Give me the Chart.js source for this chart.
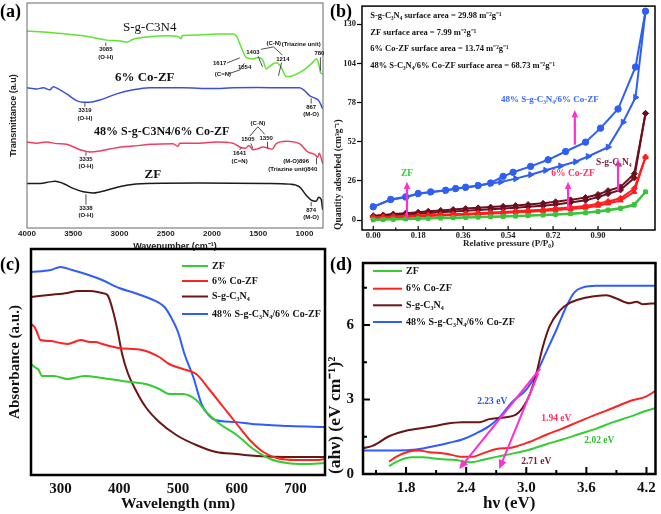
<!DOCTYPE html>
<html>
<head>
<meta charset="utf-8">
<script src="https://cdn.jsdelivr.net/npm/chart.js@4.4.1/dist/chart.umd.min.js"></script>
<style>
  body { margin: 0; background: #fff; }
  #fig { position: relative; width: 661px; height: 514px; overflow: hidden; background: #fff; }
  #fig canvas { position: absolute; }
</style>
</head>
<body>
<div id="fig">
  <canvas id="chartA" width="330" height="257" style="left:0;top:0"></canvas>
  <canvas id="chartB" width="331" height="257" style="left:330px;top:0"></canvas>
  <canvas id="chartC" width="330" height="269" style="left:0;top:245px"></canvas>
  <canvas id="chartD" width="339" height="269" style="left:322px;top:245px"></canvas>
</div>
<script>
// (a) FTIR, transmittance in arbitrary units
ftirTicks = [4000, 3500, 3000, 2500, 2000, 1500, 1000];
ftirSgWave = [4000,3752,3572,3392,3284,3140,3032,2961,2920,2853,2673,2493,2360,2335,2320,2133,1953,1774,1737,1683,1629,1558,1504,1450,1414,1380,1342,1300,1252,1198,1126,1018,910,874,846,828,803];
ftirSg = [87.6,86.9,86.2,85.4,84.6,83.5,83.2,82.9,82.6,83.9,85.0,85.4,85.0,84.1,85.6,85.8,86.2,86.2,85.4,80.2,75.8,75.1,75.8,74.6,70.7,71.7,72.9,73.5,71.4,67.3,67.7,69.9,73.6,75.1,72.9,69.2,68.5];
ftirCoWave = [4000,3896,3824,3752,3716,3662,3572,3464,3392,3320,3212,3032,2853,2673,2313,2000,1774,1500,1234,1054,1000,946,892,846,803];
ftirCo = [62.3,61.8,62.3,61.4,62.8,61.8,59.6,56.6,55.9,55.9,56.9,59.6,61.4,62.3,62.3,62.0,62.3,62.4,62.3,62.3,61.1,58.8,57.8,56.6,53.0];
ftirCompWave = [4000,3896,3788,3680,3572,3428,3320,3212,3032,2853,2673,2421,2367,2349,2133,1953,1774,1702,1641,1600,1558,1505,1450,1378,1350,1306,1198,1054,964,892,856,840,803];
ftirComp = [38.2,37.7,38.2,37.5,37.2,34.8,33.8,34.2,35.7,36.4,37.2,37.5,36.3,37.7,37.7,38.2,37.7,36.0,35.4,36.7,34.8,35.2,36.0,35.3,35.0,37.5,38.6,37.5,33.8,32.7,31.5,33.2,28.6];
ftirZfWave = [4000,3860,3752,3698,3608,3500,3392,3284,3140,2925,2709,2133,1414,1162,1054,982,928,874,846,820,803];
ftirZf = [19.8,19.8,20.5,20.8,19.8,17.6,16.1,15.6,16.8,19.0,19.8,20.0,19.8,19.5,18.3,14.6,12.4,11.9,13.7,12.8,8.0];

// (b) N2 isotherms, cm3/g
isoTicksX = [0, 0.18, 0.36, 0.54, 0.72, 0.90];
isoTicksY = [0, 26, 52, 78, 104, 130];
isoP = [0.00,0.04,0.08,0.13,0.18,0.22,0.27,0.32,0.37,0.42,0.47,0.52,0.57,0.62,0.68,0.73,0.79,0.85,0.90,0.94,0.99,1.045,1.09];
sgDes = [2.9,3.4,4.0,4.6,5.2,5.8,6.4,7.0,7.6,8.1,8.6,9.1,9.6,10.3,11.1,12.1,13.4,15.0,17.0,19.5,22.0,30.8,70.8];
sgAds = [2.2,2.7,3.2,3.7,4.2,4.7,5.2,5.7,6.2,6.7,7.2,7.7,8.2,8.8,9.5,10.4,11.6,13.2,15.2,17.5,20.0,28.0,70.8];
coDes = [1.8,2.1,2.4,2.7,3.0,3.3,3.6,3.9,4.2,4.6,5.0,5.4,5.8,6.3,6.9,7.6,8.4,9.4,10.8,12.3,14.5,20.9,41.8];
coAds = [1.2,1.5,1.8,2.1,2.4,2.7,3.0,3.3,3.6,3.9,4.3,4.7,5.1,5.5,6.0,6.6,7.3,8.2,9.5,11.0,13.0,18.7,41.8];
zfDes = [0.3,0.5,0.7,0.9,1.1,1.3,1.5,1.7,1.9,2.1,2.3,2.5,2.8,3.1,3.5,3.9,4.4,5.0,5.9,6.8,8.0,10.5,18.7];
zfAds = [0.0,0.2,0.4,0.6,0.8,1.0,1.2,1.4,1.6,1.8,2.0,2.2,2.5,2.8,3.2,3.6,4.1,4.7,5.5,6.4,7.6,9.8,18.7];
compDesP = [0.00,0.07,0.13,0.18,0.23,0.29,0.33,0.37,0.42,0.47,0.52,0.56,0.63,0.70,0.77,0.85,0.91,0.98,1.05,1.09];
compDes = [8.8,13.7,15.4,17.6,18.7,19.8,20.9,21.8,22.9,24.6,29.0,31.7,35.6,40.0,45.5,51.7,61.0,73.7,101.6,138.6];
compAdsP = [0.00,0.07,0.13,0.18,0.23,0.29,0.33,0.37,0.42,0.47,0.51,0.57,0.63,0.69,0.75,0.81,0.86,0.94,1.00,1.05,1.09];
compAds = [8.8,13.5,15.2,17.4,18.5,19.6,20.7,21.6,22.8,24.2,25.3,27.5,30.1,33.0,35.9,38.7,42.2,48.4,64.9,81.4,138.6];

// (c) UV-vis absorbance, a.u.
uvTicks = [300, 400, 500, 600, 700];
uvZfWave = [250,256,263,269,289,312,341,371,405,445,468,485,508,531,548,571,600,628,657,685,714,750];
uvZf = [1.11,1.08,1.05,0.99,0.99,0.96,0.99,0.97,0.94,0.91,0.86,0.81,0.81,0.75,0.63,0.51,0.40,0.26,0.16,0.12,0.11,0.12];
uvCoWave = [250,256,260,266,283,300,312,335,350,360,371,399,439,468,485,508,531,554,577,600,622,645,668,702,736,750];
uvCo = [1.51,1.48,1.43,1.35,1.34,1.32,1.31,1.35,1.33,1.33,1.31,1.27,1.25,1.18,1.11,1.06,1.01,0.85,0.68,0.51,0.35,0.23,0.17,0.15,0.15,0.16];
uvSgWave = [250,280,312,330,350,371,380,389,397,405,414,428,445,468,497,531,565,599,634,685,750];
uvSg = [1.78,1.80,1.82,1.84,1.84,1.82,1.80,1.65,1.45,1.21,1.03,0.85,0.68,0.53,0.40,0.30,0.23,0.21,0.19,0.18,0.18];
uvCompWave = [250,283,300,320,348,371,400,426,454,477,488,500,511,526,540,552,563,597,626,655,689,750];
uvComp = [2.03,2.05,2.08,2.05,2.0,1.95,1.87,1.82,1.76,1.68,1.58,1.43,1.21,0.98,0.71,0.60,0.55,0.53,0.51,0.50,0.49,0.48];

// (d) Tauc plot
taucTicksX = [1.8, 2.4, 3.0, 3.6, 4.2];
taucTicksY = [0, 3, 6];
taucZfE = [1.63,1.73,1.86,1.96,2.13,2.30,2.43,2.56,2.70,2.86,3.03,3.20,3.36,3.53,3.70,3.86,4.03,4.20,4.29];
taucZf = [0.32,0.54,0.67,0.67,0.60,0.56,0.47,0.56,0.69,0.82,0.98,1.20,1.39,1.61,1.83,2.08,2.30,2.55,2.65];
taucCoE = [1.63,1.70,1.83,1.93,2.03,2.20,2.36,2.46,2.56,2.70,2.86,3.03,3.20,3.36,3.53,3.70,3.86,4.03,4.20,4.29];
taucCo = [0.50,0.69,0.91,0.95,0.88,0.82,0.69,0.69,0.82,1.01,1.07,1.29,1.58,1.83,2.12,2.40,2.65,2.93,3.13,3.35];
taucSgE = [1.37,1.47,1.63,1.83,2.03,2.20,2.36,2.53,2.63,2.76,2.90,2.96,3.03,3.10,3.16,3.23,3.33,3.43,3.56,3.70,3.80,3.90,4.03,4.10,4.16,4.29];
taucSg = [1.04,1.14,1.52,1.77,1.89,2.02,2.08,2.08,2.21,2.27,2.40,2.65,3.16,4.04,5.05,5.93,6.56,6.88,7.07,7.17,7.20,7.07,6.88,6.94,6.84,6.88];
taucCompE = [1.37,1.70,1.90,2.10,2.23,2.36,2.50,2.63,2.73,2.86,3.00,3.10,3.20,3.30,3.40,3.48,3.56,3.70,3.96,4.29];
taucComp = [0.95,0.95,0.99,1.14,1.26,1.39,1.64,1.93,2.27,2.90,3.40,4.04,4.92,5.80,6.75,7.32,7.51,7.58,7.58,7.58];

SERIF = 'Liberation Serif';
SANS = 'Liberation Sans';
MAGENTA = '#ff2fd2';

function pts(xs, ys) {
    return xs.map(function (x, i) { return {x: x, y: ys[i]}; });
}

function fixTicks(list) {
    return function (s) { s.ticks = list.map(function (v) { return {value: v}; }); };
}

// frame, panel letter, inner ticks, notes, arrows and legend drawn on top
function overlay(cfg) {
    return {
        id: 'overlay',
        afterDatasetsDraw: function (chart) {
            var ctx = chart.ctx, a = chart.chartArea;
            var xs = chart.scales.x, ys = chart.scales.y;
            var px = function (v) { return xs.getPixelForValue(v); };
            var py = function (v) { return ys.getPixelForValue(v); };
            ctx.save();
            if (cfg.ticksIn) {
                var t = cfg.ticksIn;
                ctx.strokeStyle = '#000';
                ctx.lineWidth = t.width;
                ctx.beginPath();
                (t.x || []).forEach(function (v) { ctx.moveTo(px(v), a.bottom); ctx.lineTo(px(v), a.bottom - t.len); });
                (t.xMinor || []).forEach(function (v) { ctx.moveTo(px(v), a.bottom); ctx.lineTo(px(v), a.bottom - t.minor); });
                (t.y || []).forEach(function (v) { ctx.moveTo(a.left, py(v)); ctx.lineTo(a.left + t.len, py(v)); });
                (t.yMinor || []).forEach(function (v) { ctx.moveTo(a.left, py(v)); ctx.lineTo(a.left + t.minor, py(v)); });
                ctx.stroke();
            }
            if (cfg.frame) {
                ctx.strokeStyle = cfg.frame.color;
                ctx.lineWidth = cfg.frame.width;
                ctx.strokeRect(a.left, a.top, a.right - a.left, a.bottom - a.top);
            }
            (cfg.lines || []).forEach(function (l) {
                ctx.strokeStyle = l.color || '#222';
                ctx.lineWidth = l.width || 0.8;
                ctx.beginPath();
                l.pts.forEach(function (p, i) {
                    if (i === 0) ctx.moveTo(px(p[0]), py(p[1])); else ctx.lineTo(px(p[0]), py(p[1]));
                });
                ctx.stroke();
            });
            (cfg.arrows || []).forEach(function (r) {
                var x1 = px(r.from[0]), y1 = py(r.from[1]), x2 = px(r.to[0]), y2 = py(r.to[1]);
                var ang = Math.atan2(y2 - y1, x2 - x1), h = r.head || 8;
                ctx.strokeStyle = r.color;
                ctx.fillStyle = r.color;
                ctx.lineWidth = r.width || 2;
                ctx.beginPath();
                ctx.moveTo(x1, y1);
                ctx.lineTo(x2 - Math.cos(ang) * h * 0.7, y2 - Math.sin(ang) * h * 0.7);
                ctx.stroke();
                ctx.beginPath();
                ctx.moveTo(x2, y2);
                ctx.lineTo(x2 - h * Math.cos(ang - 0.42), y2 - h * Math.sin(ang - 0.42));
                ctx.lineTo(x2 - h * Math.cos(ang + 0.42), y2 - h * Math.sin(ang + 0.42));
                ctx.closePath();
                ctx.fill();
            });
            ctx.textBaseline = 'middle';
            (cfg.texts || []).forEach(function (n) {
                ctx.font = n.font;
                ctx.fillStyle = n.color || '#111';
                ctx.textAlign = n.align || 'center';
                ctx.fillText(n.text, px(n.x), py(n.y));
            });
            if (cfg.legend) {
                var g = cfg.legend;
                ctx.font = g.font;
                ctx.textAlign = 'left';
                chart.data.datasets.forEach(function (ds, i) {
                    ctx.strokeStyle = ds.borderColor;
                    ctx.lineWidth = 2;
                    ctx.beginPath();
                    ctx.moveTo(g.x0, g.rows[i]);
                    ctx.lineTo(g.x1, g.rows[i]);
                    ctx.stroke();
                    ctx.fillStyle = '#111';
                    ctx.fillText(ds.label, g.tx, g.rows[i]);
                });
            }
            if (cfg.letter) {
                ctx.font = 'bold 18px ' + SERIF;
                ctx.fillStyle = '#000';
                ctx.textAlign = 'left';
                ctx.fillText(cfg.letter.text, cfg.letter.x, cfg.letter.y);
            }
            ctx.restore();
        }
    };
}

function baseOptions() {
    return {
        responsive: false,
        animation: false,
        devicePixelRatio: 1,
        events: [],
        plugins: {legend: {display: false}, tooltip: {enabled: false}},
        elements: {point: {radius: 0}, line: {borderWidth: 2}}
    };
}

// ---------- (a) ----------
var optA = baseOptions();
optA.layout = {padding: {left: 0, right: 7, top: 3, bottom: 0}};
optA.elements.line.borderWidth = 1.5;
optA.elements.line.cubicInterpolationMode = 'monotone';
optA.scales = {
    x: {
        type: 'linear', reverse: true, min: 800, max: 4000,
        afterBuildTicks: fixTicks(ftirTicks),
        afterFit: function (s) { s.height = 29; },
        ticks: {font: {family: SANS, size: 8, weight: 'bold'}, color: '#222', padding: 1, callback: function (v) { return v; }},
        grid: {drawOnChartArea: false, drawTicks: false},
        border: {display: false},
        title: {display: true, text: 'Wavenumber (cm⁻¹)', font: {family: SANS, size: 9, weight: 'bold'}, color: '#222', padding: {top: 0, bottom: 5}}
    },
    y: {
        min: 0, max: 100,
        afterFit: function (s) { s.width = 27; },
        ticks: {display: false},
        grid: {display: false},
        border: {display: false},
        title: {display: true, text: 'Transmittance (a.u)', font: {family: SANS, size: 9, weight: 'bold'}, color: '#222', padding: {top: 8.5, bottom: 0}}
    }
};
var noteA = 'bold 6px ' + SANS;
new Chart(document.getElementById('chartA'), {
    type: 'line',
    data: {
        datasets: [
            {label: 'S-g-C3N4', data: pts(ftirSgWave, ftirSg), borderColor: '#5fe52f'},
            {label: '6% Co-ZF', data: pts(ftirCoWave, ftirCo), borderColor: '#3b4fd9'},
            {label: '48% S-g-C3N4/6% Co-ZF', data: pts(ftirCompWave, ftirComp), borderColor: '#f03e5e'},
            {label: 'ZF', data: pts(ftirZfWave, ftirZf), borderColor: '#1a1a1a'}
        ]
    },
    options: optA,
    plugins: [overlay({
        frame: {color: '#666', width: 1},
        letter: {text: '(a)', x: 0, y: 12},
        texts: [
            {x: 2673, y: 89.0, text: 'S-g-C3N4', font: '13px ' + SERIF},
            {x: 2727, y: 66.8, text: '6% Co-ZF', font: 'bold 13px ' + SERIF},
            {x: 2543, y: 42.5, text: '48% S-g-C3N4/6% Co-ZF', font: 'bold 12px ' + SERIF},
            {x: 2640, y: 23.9, text: 'ZF', font: 'bold 13px ' + SERIF},
            {x: 3148, y: 79.2, text: '3085', font: noteA}, {x: 3148, y: 75.9, text: '(O-H)', font: noteA},
            {x: 3374, y: 52.2, text: '3319', font: noteA}, {x: 3374, y: 48.9, text: '(O-H)', font: noteA},
            {x: 3363, y: 30.5, text: '3335', font: noteA}, {x: 3363, y: 27.3, text: '(O-H)', font: noteA},
            {x: 3363, y: 8.8, text: '3338', font: noteA}, {x: 3363, y: 5.6, text: '(O-H)', font: noteA},
            {x: 928, y: 53.7, text: '867', font: noteA}, {x: 928, y: 50.6, text: '(M-O)', font: noteA},
            {x: 928, y: 8.0, text: '874', font: noteA}, {x: 928, y: 4.9, text: '(M-O)', font: noteA},
            {x: 1917, y: 73.1, text: '1617', font: noteA}, {x: 1882, y: 68.5, text: '(C=N)', font: noteA},
            {x: 1648, y: 71.4, text: '1554', font: noteA}, {x: 1558, y: 78.0, text: '1403', font: noteA},
            {x: 1332, y: 81.9, text: '(C-N)', font: noteA}, {x: 1234, y: 75.1, text: '1214', font: noteA},
            {x: 1036, y: 81.6, text: '(Triazine unit)', font: noteA}, {x: 839, y: 77.6, text: '780', font: noteA},
            {x: 1504, y: 46.3, text: '(C-N)', font: noteA}, {x: 1612, y: 39.2, text: '1505', font: noteA},
            {x: 1414, y: 40.0, text: '1350', font: noteA}, {x: 1702, y: 33.1, text: '1641', font: noteA},
            {x: 1702, y: 29.6, text: '(C=N)', font: noteA}, {x: 1090, y: 29.6, text: '(M-O)896', font: noteA},
            {x: 1127, y: 26.1, text: '(Triazine unit)840', font: noteA}
        ],
        lines: [
            {pts: [[3148, 82.4], [3148, 80.9]]},
            {pts: [[3374, 55.6], [3374, 53.9]]},
            {pts: [[3363, 33.6], [3363, 32.1]]},
            {pts: [[3363, 15.0], [3363, 10.4]]},
            {pts: [[928, 57.6], [928, 55.3]]},
            {pts: [[928, 11.6], [928, 9.6]]},
            {pts: [[1840, 73.3], [1700, 75.6]]},
            {pts: [[1820, 68.6], [1700, 70.2], [1650, 73.2]]},
            {pts: [[1500, 76.3], [1454, 71.6]]},
            {pts: [[1470, 79.4], [1335, 80.5], [1240, 76.9]]},
            {pts: [[1248, 73.5], [1281, 67.7]]},
            {pts: [[828, 75.9], [828, 69.9]]},
            {pts: [[1590, 40.9], [1504, 45.0], [1430, 41.6]]},
            {pts: [[1580, 37.6], [1558, 35.4]]},
            {pts: [[1400, 38.3], [1400, 35.6]]},
            {pts: [[1702, 34.7], [1680, 35.8]]},
            {pts: [[870, 31.2], [870, 28.3]]}
        ]
    })]
});

// ---------- (b) ----------
var optB = baseOptions();
optB.layout = {padding: {left: 0, right: 6, top: 5, bottom: 0}};
optB.elements.line.tension = 0;
optB.elements.point.radius = 3;
optB.scales = {
    x: {
        type: 'linear', min: -0.045, max: 1.128,
        afterBuildTicks: fixTicks(isoTicksX),
        afterFit: function (s) { s.height = 27; },
        ticks: {font: {family: SERIF, size: 8.5, weight: 'bold'}, color: '#222', padding: 1, callback: function (v) { return v.toFixed(2); }},
        grid: {drawOnChartArea: false, drawTicks: false},
        border: {display: false},
        title: {display: true, text: 'Relative pressure (P/P₀)', font: {family: SERIF, size: 9, weight: 'bold'}, color: '#222', padding: {top: 0, bottom: 8}}
    },
    y: {
        min: -6.6, max: 142,
        afterBuildTicks: fixTicks(isoTicksY),
        afterFit: function (s) { s.width = 32; },
        ticks: {font: {family: SERIF, size: 8.5, weight: 'bold'}, color: '#222', padding: 1},
        grid: {drawOnChartArea: false, tickLength: 5, color: '#000', tickWidth: 1.2},
        border: {display: false},
        title: {display: true, align: 'start', text: 'Quantity adsorbed (cm³g⁻¹)', font: {family: SERIF, size: 9.5, weight: 'bold'}, color: '#222', padding: {top: 2.5, bottom: 0}}
    }
};
var BLUE_B = '#2f5ff2', MAROON_B = '#6a1020', RED_B = '#ff1e1e', GREEN_B = '#3cc23c';
var noteB = 'bold 8.5px ' + SERIF;
new Chart(document.getElementById('chartB'), {
    type: 'line',
    data: {
        datasets: [
            {label: 'ZF ads', data: pts(isoP, zfAds), borderColor: GREEN_B, backgroundColor: GREEN_B, pointStyle: 'rect', pointRadius: 2.5},
            {label: 'ZF des', data: pts(isoP, zfDes), borderColor: GREEN_B, backgroundColor: GREEN_B, pointStyle: 'rect', pointRadius: 2.5},
            {label: 'Co ads', data: pts(isoP, coAds), borderColor: RED_B, backgroundColor: RED_B, pointStyle: 'triangle'},
            {label: 'Co des', data: pts(isoP, coDes), borderColor: RED_B, backgroundColor: RED_B, pointStyle: 'rectRot'},
            {label: 'Sg ads', data: pts(isoP, sgAds), borderColor: MAROON_B, backgroundColor: MAROON_B, pointStyle: 'rectRot'},
            {label: 'Sg des', data: pts(isoP, sgDes), borderColor: MAROON_B, backgroundColor: MAROON_B, pointStyle: 'rectRot'},
            {label: 'Comp ads', data: pts(compAdsP, compAds), borderColor: BLUE_B, backgroundColor: BLUE_B, pointStyle: 'triangle', rotation: 90, pointRadius: 3.5},
            {label: 'Comp des', data: pts(compDesP, compDes), borderColor: BLUE_B, backgroundColor: BLUE_B, pointStyle: 'circle', pointRadius: 3.2}
        ]
    },
    options: optB,
    plugins: [overlay({
        frame: {color: '#000', width: 1.5},
        letter: {text: '(b)', x: 0, y: 12},
        ticksIn: {x: isoTicksX, xMinor: [0.09, 0.27, 0.45, 0.63, 0.81, 0.99], len: 4, minor: 2.5, width: 1.2},
        arrows: [
            {from: [0.135, 1.0], to: [0.135, 25.5], color: MAGENTA, width: 2.2, head: 8},
            {from: [0.78, 7.5], to: [0.78, 25.5], color: MAGENTA, width: 2.2, head: 8},
            {from: [0.98, 19.5], to: [0.98, 40.5], color: MAGENTA, width: 2.2, head: 8},
            {from: [0.807, 50.0], to: [0.807, 73.0], color: MAGENTA, width: 2.2, head: 8}
        ],
        texts: [
            {x: -0.012, y: 135.3, text: 'S-g-C₃N₄ surface area = 29.98 m⁻²g⁻¹', font: noteB, align: 'left'},
            {x: -0.012, y: 124.5, text: 'ZF surface area = 7.99 m⁻²g⁻¹', font: noteB, align: 'left'},
            {x: -0.012, y: 113.5, text: '6% Co-ZF surface area = 13.74 m⁻²g⁻¹', font: noteB, align: 'left'},
            {x: -0.012, y: 102.3, text: '48% S-C₃N₄/6% Co-ZF surface area = 68.73 m⁻²g⁻¹', font: noteB, align: 'left'},
            {x: 0.707, y: 79.9, text: '48% S-g-C₃N₄/6% Co-ZF', font: 'bold 9px ' + SERIF, color: '#3a68ff'},
            {x: 0.135, y: 31.0, text: 'ZF', font: 'bold 9.5px ' + SERIF, color: '#33cc33'},
            {x: 0.80, y: 31.0, text: '6% Co-ZF', font: 'bold 9.5px ' + SERIF, color: '#ff3360'},
            {x: 0.963, y: 38.3, text: 'S-g-C₃N₄', font: 'bold 9.5px ' + SERIF, color: '#7a1f3d'}
        ]
    })]
});

// ---------- (c) ----------
var GREEN = '#33cc33', RED = '#ff2222', MAROON = '#6b1515', BLUE = '#2f5bff';
var optC = baseOptions();
optC.layout = {padding: {left: 0, right: 5, top: 4, bottom: 0}};
optC.elements.line.cubicInterpolationMode = 'monotone';
optC.scales = {
    x: {
        type: 'linear', min: 250, max: 750,
        afterBuildTicks: fixTicks(uvTicks),
        afterFit: function (s) { s.height = 39; },
        ticks: {font: {family: SERIF, size: 15, weight: 'bold'}, color: '#111', padding: 5},
        grid: {drawOnChartArea: false, drawTicks: false},
        border: {display: false},
        title: {display: true, text: 'Wavelength (nm)', font: {family: SERIF, size: 15.5, weight: 'bold'}, color: '#111', padding: {top: 0, bottom: 1}}
    },
    y: {
        min: 0, max: 2.26,
        afterFit: function (s) { s.width = 31; },
        ticks: {display: false},
        grid: {display: false},
        border: {display: false},
        title: {display: true, text: 'Absorbance (a.u.)', font: {family: SERIF, size: 15, weight: 'bold'}, color: '#111', padding: {top: 6, bottom: 0}}
    }
};
new Chart(document.getElementById('chartC'), {
    type: 'line',
    data: {
        datasets: [
            {label: 'ZF', data: pts(uvZfWave, uvZf), borderColor: GREEN},
            {label: '6% Co-ZF', data: pts(uvCoWave, uvCo), borderColor: RED},
            {label: 'S-g-C₃N₄', data: pts(uvSgWave, uvSg), borderColor: MAROON},
            {label: '48% S-g-C₃N₄/6% Co-ZF', data: pts(uvCompWave, uvComp), borderColor: BLUE}
        ]
    },
    options: optC,
    plugins: [overlay({
        frame: {color: '#000', width: 2.5},
        letter: {text: '(c)', x: 0, y: 20},
        legend: {x0: 182, x1: 208, tx: 212, rows: [21, 36, 51.5, 69], font: 'bold 10px ' + SERIF}
    })]
});

// ---------- (d) ----------
var optD = baseOptions();
optD.layout = {padding: {left: 0, right: 5, top: 4, bottom: 0}};
optD.elements.line.cubicInterpolationMode = 'monotone';
optD.scales = {
    x: {
        type: 'linear', min: 1.37, max: 4.29,
        afterBuildTicks: fixTicks(taucTicksX),
        afterFit: function (s) { s.height = 40; },
        ticks: {font: {family: SERIF, size: 15, weight: 'bold'}, color: '#111', padding: 5, callback: function (v) { return v.toFixed(1); }},
        grid: {drawOnChartArea: false, drawTicks: false},
        border: {display: false},
        title: {display: true, text: 'hν (eV)', font: {family: SERIF, size: 17, weight: 'bold'}, color: '#111', padding: {top: 0, bottom: 0}}
    },
    y: {
        min: 0, max: 8.5,
        afterBuildTicks: fixTicks(taucTicksY),
        afterFit: function (s) { s.width = 41; },
        ticks: {font: {family: SERIF, size: 15, weight: 'bold'}, color: '#111', padding: 9},
        grid: {drawOnChartArea: false, drawTicks: false},
        border: {display: false},
        title: {display: true, align: 'start', text: '(ahν) (eV cm⁻¹)²', font: {family: SERIF, size: 17.5, weight: 'bold'}, color: '#111', padding: {top: 2.5, bottom: 0}}
    }
};
new Chart(document.getElementById('chartD'), {
    type: 'line',
    data: {
        datasets: [
            {label: 'ZF', data: pts(taucZfE, taucZf), borderColor: GREEN},
            {label: '6% Co-ZF', data: pts(taucCoE, taucCo), borderColor: RED},
            {label: 'S-g-C₃N₄', data: pts(taucSgE, taucSg), borderColor: MAROON},
            {label: '48% S-g-C₃N₄/6% Co-ZF', data: pts(taucCompE, taucComp), borderColor: BLUE}
        ]
    },
    options: optD,
    plugins: [overlay({
        frame: {color: '#000', width: 2.5},
        letter: {text: '(d)', x: 8, y: 20},
        ticksIn: {x: taucTicksX, xMinor: [1.5, 2.1, 2.7, 3.3, 3.9], y: taucTicksY, yMinor: [1.5, 4.5, 7.5], len: 7, minor: 4, width: 2},
        legend: {x0: 51, x1: 80, tx: 84, rows: [26, 43.7, 60.3, 77], font: 'bold 10px ' + SERIF},
        arrows: [
            {from: [3.14, 4.25], to: [2.33, 0.2], color: MAGENTA, width: 2, head: 10},
            {from: [3.12, 4.05], to: [2.73, 0.2], color: MAGENTA, width: 2, head: 10}
        ],
        texts: [
            {x: 2.66, y: 2.90, text: '2.23 eV', font: 'bold 9.5px ' + SERIF, color: '#2a58f0'},
            {x: 3.30, y: 2.24, text: '1.94 eV', font: 'bold 9.5px ' + SERIF, color: '#ff3060'},
            {x: 3.73, y: 1.33, text: '2.02 eV', font: 'bold 9.5px ' + SERIF, color: '#33bb33'},
            {x: 3.10, y: 0.51, text: '2.71 eV', font: 'bold 9.5px ' + SERIF, color: '#7a1a2a'}
        ]
    })]
});
</script>
</body>
</html>
